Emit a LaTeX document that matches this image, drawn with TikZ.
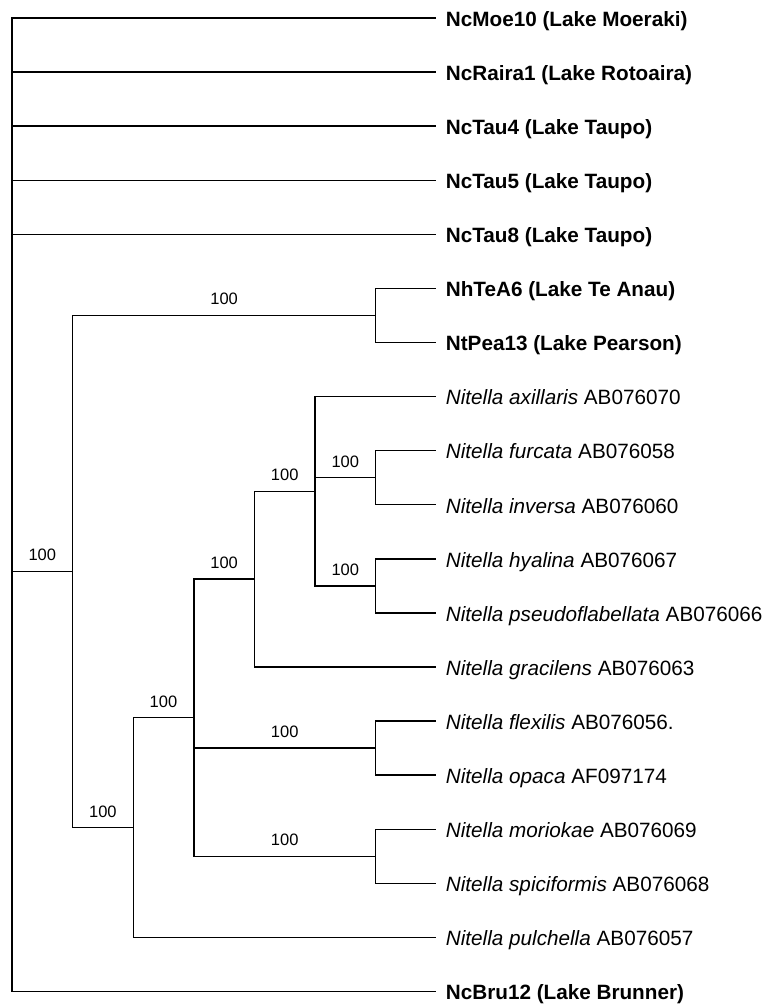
\documentclass[tikz,border=0pt]{standalone}
\usepackage{fontspec}
\setmainfont{Liberation Sans}
\begin{document}
\begin{tikzpicture}[x=1pt,y=-1pt,
  br/.style={line width=1.4pt},
  leaf/.style={anchor=base west, inner sep=0pt, xshift=9.5pt, yshift=-8.3pt, font=\fontsize{20.7}{24}\selectfont},
  bs/.style={anchor=base, inner sep=0pt, yshift=10.5pt, font=\fontsize{16.5}{19}\selectfont}]
\useasboundingbox[fill=white] (0,0) rectangle (763,1007);
% internal nodes
\coordinate (R) at (12,571.48);
\coordinate (A) at (72.6,571.48);
\coordinate (B) at (375.6,315.44);
\coordinate (C) at (133.2,827.51);
\coordinate (D) at (193.8,717.66);
\coordinate (E) at (254.4,579.08);
\coordinate (F) at (315,491.2);
\coordinate (G) at (375.6,477.68);
\coordinate (H) at (375.6,585.84);
\coordinate (I) at (375.6,748.08);
\coordinate (J) at (375.6,856.24);
% leaf tips
\foreach \i/\y in {1/18,2/72.08,3/126.16,4/180.24,5/234.32,6/288.40,7/342.48,8/396.56,9/450.64,10/504.72,11/558.80,12/612.88,13/666.96,14/721.04,15/775.12,16/829.20,17/883.28,18/937.36,19/991.44}
  \coordinate (l\i) at (436.2,\y);
% leaf labels
\node[leaf] (t1) at (l1) {\textbf{NcMoe10 (Lake Moeraki)}};
\node[leaf] (t2) at (l2) {\textbf{NcRaira1 (Lake Rotoaira)}};
\node[leaf] (t3) at (l3) {\textbf{NcTau4 (Lake Taupo)}};
\node[leaf] (t4) at (l4) {\textbf{NcTau5 (Lake Taupo)}};
\node[leaf] (t5) at (l5) {\textbf{NcTau8 (Lake Taupo)}};
\node[leaf] (t6) at (l6) {\textbf{NhTeA6 (Lake Te Anau)}};
\node[leaf] (t7) at (l7) {\textbf{NtPea13 (Lake Pearson)}};
\node[leaf] (t8) at (l8) {\textit{Nitella axillaris} AB076070};
\node[leaf] (t9) at (l9) {\textit{Nitella furcata} AB076058};
\node[leaf] (t10) at (l10) {\textit{Nitella inversa} AB076060};
\node[leaf] (t11) at (l11) {\textit{Nitella hyalina} AB076067};
\node[leaf] (t12) at (l12) {\textit{Nitella pseudoflabellata} AB076066};
\node[leaf] (t13) at (l13) {\textit{Nitella gracilens} AB076063};
\node[leaf] (t14) at (l14) {\textit{Nitella flexilis} AB076056.};
\node[leaf] (t15) at (l15) {\textit{Nitella opaca} AF097174};
\node[leaf] (t16) at (l16) {\textit{Nitella moriokae} AB076069};
\node[leaf] (t17) at (l17) {\textit{Nitella spiciformis} AB076068};
\node[leaf] (t18) at (l18) {\textit{Nitella pulchella} AB076057};
\node[leaf] (t19) at (l19) {\textbf{NcBru12 (Lake Brunner)}};
% branches
\draw[br] (R) |- (l1);
\draw[br] (R) |- (l2);
\draw[br] (R) |- (l3);
\draw[br] (R) |- (l4);
\draw[br] (R) |- (l5);
\draw[br] (R) |- (l19);
\draw[br] (R) |- (A) node[bs,pos=.75] {100};
\draw[br] (A) |- (B) node[bs,pos=.75] {100};
\draw[br] (A) |- (C) node[bs,pos=.75] {100};
\draw[br] (B) |- (l6);
\draw[br] (B) |- (l7);
\draw[br] (C) |- (D) node[bs,pos=.75] {100};
\draw[br] (C) |- (l18);
\draw[br] (D) |- (E) node[bs,pos=.75] {100};
\draw[br] (D) |- (I) node[bs,pos=.75] {100};
\draw[br] (D) |- (J) node[bs,pos=.75] {100};
\draw[br] (E) |- (F) node[bs,pos=.75] {100};
\draw[br] (E) |- (l13);
\draw[br] (F) |- (l8);
\draw[br] (F) |- (G) node[bs,pos=.75] {100};
\draw[br] (F) |- (H) node[bs,pos=.75] {100};
\draw[br] (G) |- (l9);
\draw[br] (G) |- (l10);
\draw[br] (H) |- (l11);
\draw[br] (H) |- (l12);
\draw[br] (I) |- (l14);
\draw[br] (I) |- (l15);
\draw[br] (J) |- (l16);
\draw[br] (J) |- (l17);
\end{tikzpicture}
\end{document}
